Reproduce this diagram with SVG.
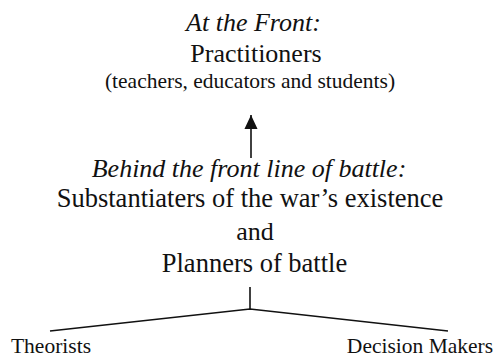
<svg xmlns="http://www.w3.org/2000/svg" width="498" height="358" viewBox="0 0 498 358">
<defs>
<style>
text{font-family:'Liberation Serif','Times New Roman',serif;fill:#111;text-anchor:middle}
.it{font-style:italic;font-size:26px}
.m{font-size:26px}
.s{font-size:21.5px}
.b{font-size:21.5px}
.l{fill:none;stroke:#111;stroke-width:1.6}
</style>
<marker id="ah" viewBox="0 0 15 14" refX="15" refY="7" markerWidth="14" markerHeight="14" markerUnits="userSpaceOnUse" orient="auto"><path d="M0,0 L15,7 L0,14 Z" fill="#111"/></marker>
</defs>
<rect width="498" height="358" fill="#fff"/>
<g id="front">
<text class="it" x="253.5" y="31">At the Front:</text>
<text class="m" x="256" y="62">Practitioners</text>
<text class="s" x="250" y="87.5">(teachers, educators and students)</text>
</g>
<g id="behind">
<text class="it" x="249" y="177">Behind the front line of battle:</text>
<text class="m" x="250" y="207" style="font-size:26.5px">Substantiaters of the war’s existence</text>
<text class="m" x="255" y="240">and</text>
<text class="m" x="254.5" y="272" style="font-size:26.5px">Planners of battle</text>
</g>
<g id="theorists"><text class="s" x="51" y="352.5">Theorists</text></g>
<g id="decision"><text class="b" x="420" y="352.5">Decision Makers</text></g>
<g id="connectors">
<line class="l" x1="251" y1="158" x2="251" y2="115" marker-end="url(#ah)"/>
<polyline class="l" points="50,331 250,309 448,331"/>
<line class="l" x1="250" y1="287" x2="250" y2="309"/>
</g>
</svg>
